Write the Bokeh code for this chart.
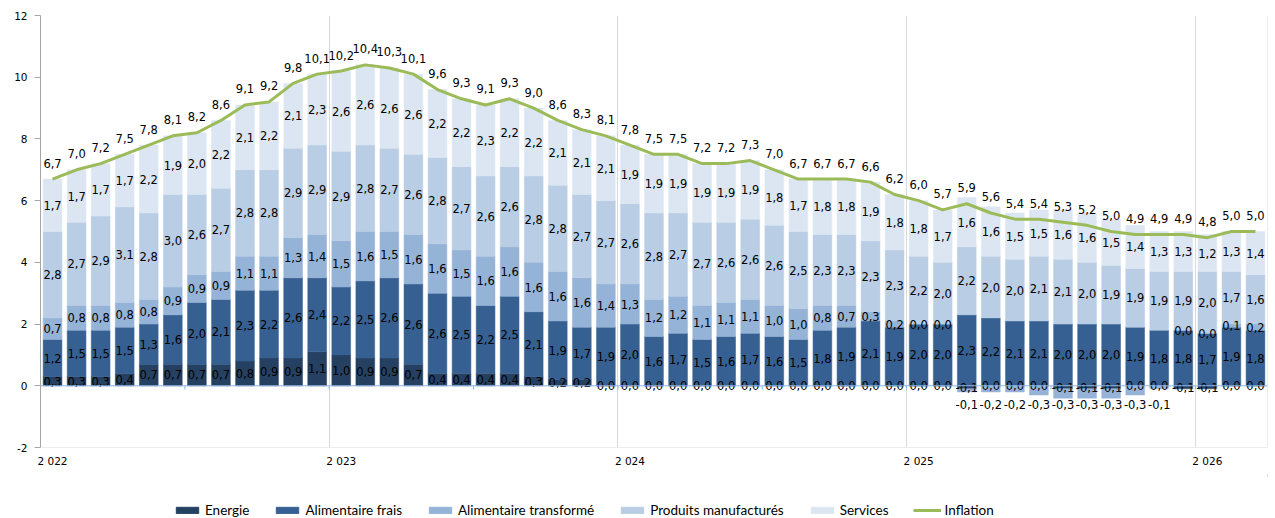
import numpy as np
from bokeh.plotting import figure
from bokeh.layouts import column
from bokeh.models import (ColumnDataSource, FixedTicker, Span, Legend, LegendItem,
                          Grid, Range1d)
from bokeh.embed import file_html
from bokeh.resources import INLINE
from bokeh.core.properties import value

# ---- data (monthly, Jan 2022 .. Mar 2026) ----
energie = [0.3, 0.3, 0.3, 0.4, 0.7, 0.7, 0.7, 0.7, 0.8, 0.9, 0.9, 1.1,
           1.0, 0.9, 0.9, 0.7, 0.4, 0.4, 0.4, 0.4, 0.3, 0.2, 0.2, 0.0,
           0.0, 0.0, 0.0, 0.0, 0.0, 0.0, 0.0, 0.0, 0.0, 0.0, 0.0, 0.0,
           0.0, 0.0, -0.1, 0.0, 0.0, 0.0, -0.1, -0.1, -0.1, 0.0, 0.0, -0.1,
           -0.1, 0.0, 0.0]
frais = [1.2, 1.5, 1.5, 1.5, 1.3, 1.6, 2.0, 2.1, 2.3, 2.2, 2.6, 2.4,
         2.2, 2.5, 2.6, 2.6, 2.6, 2.5, 2.2, 2.5, 2.1, 1.9, 1.7, 1.9,
         2.0, 1.6, 1.7, 1.5, 1.6, 1.7, 1.6, 1.5, 1.8, 1.9, 2.1, 1.9,
         2.0, 2.0, 2.3, 2.2, 2.1, 2.1, 2.0, 2.0, 2.0, 1.9, 1.8, 1.8,
         1.7, 1.9, 1.8]
transforme = [0.7, 0.8, 0.8, 0.8, 0.8, 0.9, 0.9, 0.9, 1.1, 1.1, 1.3, 1.4,
              1.5, 1.6, 1.5, 1.6, 1.6, 1.5, 1.6, 1.6, 1.6, 1.6, 1.6, 1.4,
              1.3, 1.2, 1.2, 1.1, 1.1, 1.1, 1.0, 1.0, 0.8, 0.7, 0.3, 0.2,
              0.0, 0.0, -0.1, -0.2, -0.2, -0.3, -0.3, -0.3, -0.3, -0.3, -0.1, 0.0,
              0.0, 0.1, 0.2]
manufactures = [2.8, 2.7, 2.9, 3.1, 2.8, 3.0, 2.6, 2.7, 2.8, 2.8, 2.9, 2.9,
                2.9, 2.8, 2.7, 2.6, 2.8, 2.7, 2.6, 2.6, 2.8, 2.8, 2.7, 2.7,
                2.6, 2.8, 2.7, 2.7, 2.6, 2.6, 2.6, 2.5, 2.3, 2.3, 2.3, 2.3,
                2.2, 2.0, 2.2, 2.0, 2.0, 2.1, 2.1, 2.0, 1.9, 1.9, 1.9, 1.9,
                2.0, 1.7, 1.6]
services = [1.7, 1.7, 1.7, 1.7, 2.2, 1.9, 2.0, 2.2, 2.1, 2.2, 2.1, 2.3,
            2.6, 2.6, 2.6, 2.6, 2.2, 2.2, 2.3, 2.2, 2.2, 2.1, 2.1, 2.1,
            1.9, 1.9, 1.9, 1.9, 1.9, 1.9, 1.8, 1.7, 1.8, 1.8, 1.9, 1.8,
            1.8, 1.7, 1.6, 1.6, 1.5, 1.5, 1.6, 1.6, 1.5, 1.4, 1.3, 1.3,
            1.2, 1.3, 1.4]
inflation = [6.7, 7.0, 7.2, 7.5, 7.8, 8.1, 8.2, 8.6, 9.1, 9.2, 9.8, 10.1,
             10.2, 10.4, 10.3, 10.1, 9.6, 9.3, 9.1, 9.3, 9.0, 8.6, 8.3, 8.1,
             7.8, 7.5, 7.5, 7.2, 7.2, 7.3, 7.0, 6.7, 6.7, 6.7, 6.6, 6.2,
             6.0, 5.7, 5.9, 5.6, 5.4, 5.4, 5.3, 5.2, 5.0, 4.9, 4.9, 4.9,
             4.8, 5.0, 5.0]

year_ticks = [0, 12, 24, 36, 48]
year_labels = ["2 022", "2 023", "2 024", "2 025", "2 026"]
y_ticks = [-2, 0, 2, 4, 6, 8, 10, 12]

series_names = ["Energie", "Alimentaire frais", "Alimentaire transformé",
                "Produits manufacturés", "Services"]
series_values = [energie, frais, transforme, manufactures, services]
colors = ["#254061", "#376092", "#95B3D7", "#B9CDE5", "#DCE6F2"]
line_color = "#9BBB59"

LABEL_FONT = "DejaVu Sans"
LEGEND_FONT = "Lato"
TXT = "#000000"


def fmt(v):
    return f"{v:.1f}".replace(".", ",").replace("-0,0", "0,0")


n = len(inflation)
x = np.arange(n)

p = figure(width=1275, height=475,
           x_range=Range1d(-0.5, 50.5), y_range=Range1d(-2, 12),
           output_backend="svg", toolbar_location=None,
           min_border_left=40, min_border_right=8,
           min_border_top=15, min_border_bottom=28)
p.outline_line_color = None
p.xgrid.visible = False
p.ygrid.visible = False
p.background_fill_color = "white"

# vertical year separators
p.add_layout(Grid(dimension=0, ticker=FixedTicker(ticks=[11.5, 23.5, 35.5, 47.5]),
                  grid_line_color="#D9D9D9", grid_line_width=1))
p.add_layout(Span(location=50.5, dimension="height", line_color="#D9D9D9",
                  line_width=1, level="underlay"))
p.add_layout(Span(location=-2, dimension="width", line_color="#D9D9D9",
                  line_width=1, level="underlay"))

pos_base = np.zeros(n)
neg_base = np.zeros(n)
label_sets = []
for name, vals, col in zip(series_names, series_values, colors):
    v = np.array(vals, dtype=float)
    neg = v < 0
    bottom = np.where(neg, neg_base, pos_base)
    top = bottom + v
    pos_base = np.where(neg, pos_base, top)
    neg_base = np.where(neg, top, neg_base)
    src = ColumnDataSource(dict(x=x, bottom=bottom, top=top))
    p.vbar(x="x", width=0.78, bottom="bottom", top="top", source=src,
           fill_color=col, line_color=col, line_width=0.5)
    center = (bottom + top) / 2
    if name == "Alimentaire transformé":
        ly = np.where(neg, 0.0, center)
        yoff = np.where(neg, 19.0, 0.0)
    else:
        ly = center
        yoff = np.zeros(n)
    label_sets.append(dict(x=x, y=ly, yoff=yoff, text=[fmt(a) for a in v]))

# zero line and its small ticks
p.add_layout(Span(location=0, dimension="width", line_color="#8DB4E2",
                  line_width=1, level="glyph"))
half_ticks = np.arange(5.5, 50, 6)
p.segment(x0=half_ticks, y0=np.zeros(len(half_ticks)), x1=half_ticks,
          y1=np.full(len(half_ticks), -0.12), line_color="#8DB4E2", line_width=1)

for d in label_sets:
    p.text(x="x", y="y", text="text", y_offset="yoff", source=ColumnDataSource(d),
           text_align="center", text_baseline="middle",
           text_font=value(LABEL_FONT), text_font_size="11.5px", text_color=TXT)

p.line(x, inflation, line_color=line_color, line_width=3, line_join="round")
p.text(x=x, y=inflation, text=[fmt(v) for v in inflation], y_offset=-16,
       text_align="center", text_baseline="middle",
       text_font=value(LABEL_FONT), text_font_size="11.5px", text_color=TXT)

# axes
p.yaxis.ticker = FixedTicker(ticks=y_ticks)
p.yaxis.major_label_overrides = {t: str(t) for t in y_ticks}
p.yaxis.axis_line_color = "#A6A6A6"
p.yaxis.major_tick_line_color = "#A6A6A6"
p.yaxis.major_tick_out = 6
p.yaxis.major_tick_in = 0
p.yaxis.minor_tick_line_color = None
p.yaxis.major_label_standoff = 7
p.yaxis.major_label_text_font = LABEL_FONT
p.yaxis.major_label_text_font_size = "10.5px"
p.yaxis.major_label_text_color = TXT

p.xaxis.ticker = FixedTicker(ticks=year_ticks)
p.xaxis.major_label_overrides = {t: l for t, l in zip(year_ticks, year_labels)}
p.xaxis.axis_line_color = None
p.xaxis.major_tick_line_color = None
p.xaxis.major_tick_out = 0
p.xaxis.major_tick_in = 0
p.xaxis.minor_tick_line_color = None
p.xaxis.minor_tick_out = 0
p.xaxis.major_label_standoff = 7
p.xaxis.major_label_text_font = LABEL_FONT
p.xaxis.major_label_text_font_size = "10.5px"
p.xaxis.major_label_text_color = TXT

# ---- legend strip (separate small figure below) ----
lg = figure(width=1275, height=43, x_range=Range1d(0, 1), y_range=Range1d(0, 1),
            output_backend="svg", toolbar_location=None,
            x_axis_location=None, y_axis_location=None,
            min_border_left=0, min_border_right=0, min_border_top=0, min_border_bottom=0)
lg.outline_line_color = None
lg.xgrid.visible = False
lg.ygrid.visible = False

# legend swatch renderers: one point each, kept outside the visible range
items = []
for name, col in zip(series_names, colors):
    r = lg.vbar(x=[5], width=0.5, top=[5.5], bottom=[5], fill_color=col, line_color=col)
    items.append(LegendItem(label=name, renderers=[r]))
lr = lg.line(x=[5, 6], y=[5, 5], line_color=line_color, line_width=3)
items.append(LegendItem(label="Inflation", renderers=[lr]))

legend = Legend(items=items, orientation="horizontal", location=(133, 0),
                border_line_color=None, background_fill_alpha=0,
                glyph_width=28, glyph_height=8, label_standoff=4, spacing=24,
                padding=0, margin=0, label_text_font=LEGEND_FONT,
                label_text_font_size="13.5px", label_text_color=TXT)
lg.add_layout(legend)

layout = column(p, lg, spacing=0)
open("out.html", "w").write(file_html(layout, INLINE, "Inflation"))
